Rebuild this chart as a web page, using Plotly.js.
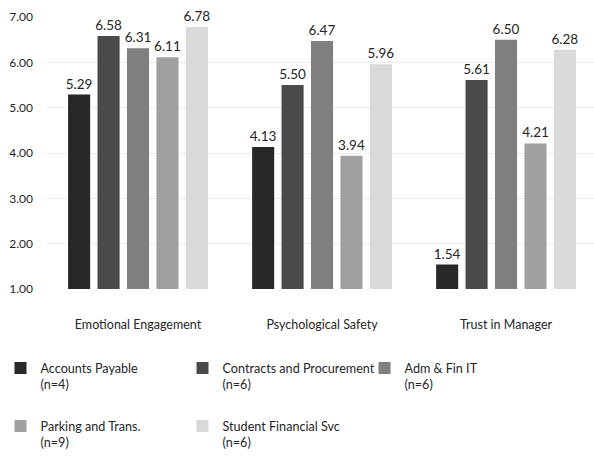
<!DOCTYPE html>
<html>
<head>
<meta charset="utf-8">
<script src="https://cdn.plot.ly/plotly-3.0.1.min.js"></script>
<style>html,body{margin:0;padding:0;background:#fff;}#chart{width:594px;height:458px;}</style>
</head>
<body>
<div id="chart"></div>
<script>
const categories = ["Emotional Engagement", "Psychological Safety", "Trust in Manager"];
const seriesNames = ["Accounts Payable<br>(n=4)", "Contracts and Procurement<br>(n=6)", "Adm & Fin IT<br>(n=6)", "Parking and Trans.<br>(n=9)", "Student Financial Svc<br>(n=6)"];
const accountsPayable = [5.29, 4.13, 1.54];
const contractsProcurement = [6.58, 5.50, 5.61];
const admFinIT = [6.31, 6.47, 6.50];
const parkingTrans = [6.11, 3.94, 4.21];
const studentFinancial = [6.78, 5.96, 6.28];
const colors = ["#282828", "#4a4a4a", "#7f7f7f", "#a0a0a0", "#d9d9d9"];
const legendRows = ["legend", "legend", "legend", "legend2", "legend2"];
const tickVals = [1, 2, 3, 4, 5, 6, 7];
const tickText = ["1.00", "2.00", "3.00", "4.00", "5.00", "6.00", "7.00"];

const allSeries = [accountsPayable, contractsProcurement, admFinIT, parkingTrans, studentFinancial];
const FONT = "Lato, 'Noto Sans', sans-serif";
const traces = allSeries.map((vals, i) => ({
  type: "bar",
  name: seriesNames[i],
  legend: legendRows[i],
  x: categories,
  y: vals,
  marker: {color: colors[i]},
  text: vals.map(v => v.toFixed(2)),
  textposition: "outside",
  constraintext: "none",
  textfont: {family: FONT, size: 13.5, color: "#262626"},
  cliponaxis: false,
  hoverinfo: "none"
}));

const legendBase = {
  orientation: "h",
  x: -0.083, xanchor: "left",
  yanchor: "top",
  entrywidth: 137,
  valign: "top",
  font: {family: FONT, size: 12.6, color: "#262626"},
  itemclick: false, itemdoubleclick: false,
  traceorder: "normal",
  bgcolor: "rgba(0,0,0,0)"
};

const layout = {
  width: 594, height: 458,
  margin: {l: 46, r: 0, t: 17, b: 152},
  paper_bgcolor: "#fff", plot_bgcolor: "#fff",
  font: {family: FONT, color: "#262626"},
  barmode: "group",
  bargap: 0.2,
  bargroupgap: 0.25,
  showlegend: true,
  xaxis: {
    range: [-0.5, 2.478],
    showgrid: false, zeroline: false, showline: false, ticks: "",
    tickfont: {family: FONT, size: 12.5, color: "#262626"},
    ticklabelstandoff: 26
  },
  yaxis: {
    range: [1, 7],
    tickvals: tickVals, ticktext: tickText,
    showgrid: true, gridcolor: "#ebebeb", gridwidth: 1,
    zeroline: false, showline: false, ticks: "",
    tickfont: {family: FONT, size: 12, color: "#262626"},
    ticklabelstandoff: 12
  },
  legend: Object.assign({}, legendBase, {y: -0.236}),
  legend2: Object.assign({}, legendBase, {y: -0.450})
};

Plotly.newPlot("chart", traces, layout, {displayModeBar: false, staticPlot: true});
</script>
</body>
</html>
